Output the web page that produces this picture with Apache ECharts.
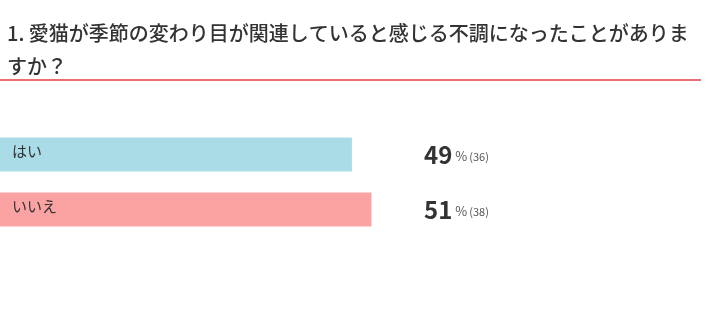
<!DOCTYPE html>
<html>
<head>
<meta charset="utf-8">
<script src="https://cdn.jsdelivr.net/npm/echarts@6/dist/echarts.min.js"></script>
<style>
  html, body { margin: 0; padding: 0; background: #fff; }
  #chart { width: 710px; height: 332px; }
</style>
</head>
<body>
<div id="chart"></div>
<script>
// 設問と回答データ
const questionTitle = '1. 愛猫が季節の変わり目が関連していると感じる不調になったことがありま\nすか？'
const categories = ['はい', 'いいえ']
const counts = [36, 38]
const percents = [49, 51]
const barColors = ['#a9dce6', '#fba3a3']

const chart = echarts.init(document.getElementById('chart'))
const font = '"Noto Sans CJK JP", "Noto Sans", sans-serif'

chart.setOption({
  animation: false,
  title: {
    text: questionTitle,
    left: 2,
    top: 12,
    textStyle: { fontFamily: font, fontSize: 20, fontWeight: 500, color: '#333', lineHeight: 33 }
  },
  graphic: [
    {
      type: 'line',
      shape: { x1: 0, y1: 80, x2: 701, y2: 80 },
      style: { stroke: '#ec6e74', lineWidth: 2 }
    }
  ],
  grid: { left: 0, top: 127, width: 391, height: 110 },
  xAxis: { type: 'value', min: 0, max: 40, show: false },
  yAxis: [
    {
      type: 'category',
      inverse: true,
      data: categories,
      show: false
    },
    {
      // 右側のパーセント表示
      type: 'category',
      inverse: true,
      position: 'right',
      data: categories,
      axisLine: { show: false },
      axisTick: { show: false },
      axisLabel: {
        margin: 33,
        formatter: (v, i) => `{big|${percents[i]}}{pct|%}{cnt|(${counts[i]})}`,
        rich: {
          big: { fontFamily: font, fontSize: 24, fontWeight: 'bold', color: '#333', padding: [0, 3, 0, 0] },
          pct: { fontFamily: font, fontSize: 13, color: '#555', padding: [4, 2, 0, 0] },
          cnt: { fontFamily: font, fontSize: 11, color: '#555', padding: [4, 0, 0, 0] }
        }
      }
    }
  ],
  series: [
    {
      type: 'bar',
      barWidth: 34,
      data: counts.map((v, i) => ({ value: v, itemStyle: { color: barColors[i] } })),
      label: {
        show: true,
        position: 'insideLeft',
        offset: [7, -3],
        formatter: p => categories[p.dataIndex],
        fontFamily: font,
        fontSize: 15,
        color: '#333'
      }
    }
  ]
})
</script>
</body>
</html>
